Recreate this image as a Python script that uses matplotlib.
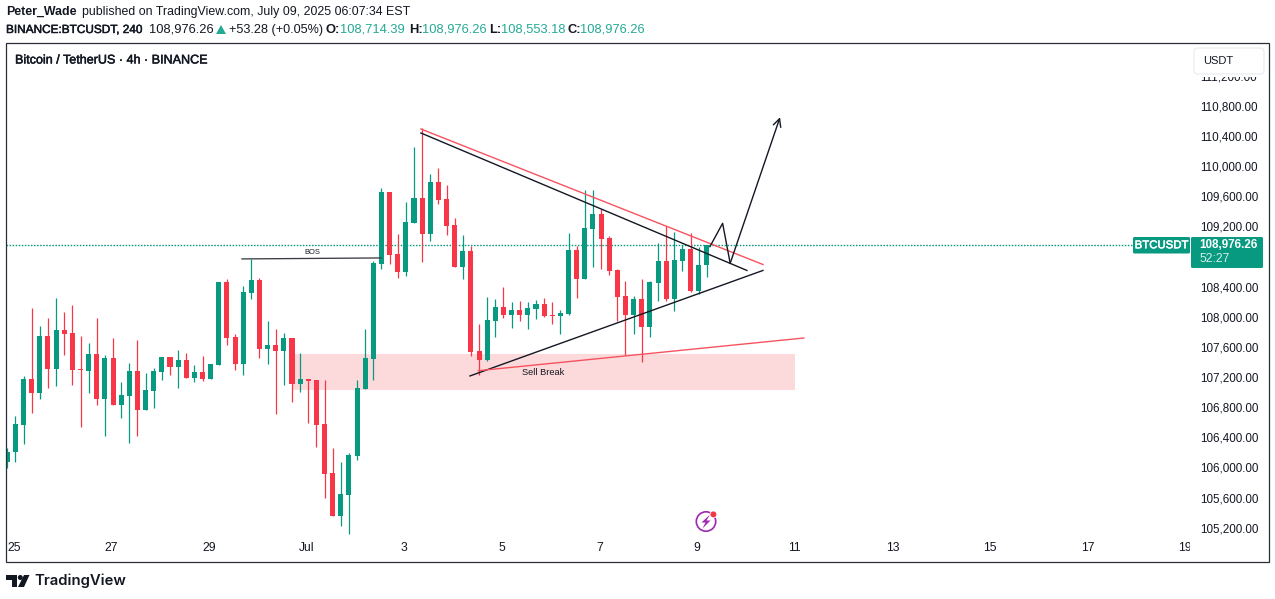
import matplotlib
matplotlib.use('Agg')
import matplotlib.pyplot as plt
import matplotlib.patches as mpatches
import matplotlib.patheffects as pe
from matplotlib.transforms import Bbox, IdentityTransform, TransformedBbox, ScaledTranslation

plt.rcParams['font.family'] = ['Liberation Sans', 'DejaVu Sans']

# 4h candles
opens = [106100, 106233, 106591, 107202, 107016, 107773, 107335, 107853, 107813, 107335,
         107308, 107534, 106936, 107481, 106857, 106976, 107308, 106790, 107042, 107295,
         107494, 107361, 107454, 107215, 107295, 107202, 107388, 108490, 107760, 107401,
         108344, 108517, 107600, 107653, 107574, 107746, 107135, 107202, 107188, 106604,
         105954, 105383, 105662, 106180, 107069, 107467, 108729, 109685, 108862, 108623,
         109273, 109606, 109127, 109818, 109592, 109247, 108690, 108902, 107574, 107454,
         107972, 108158, 108052, 108119, 108052, 108132, 108198, 108052, 108039, 108065,
         108915, 108530, 109193, 109393, 109074, 108650, 108304, 108052, 108264, 107893,
         108477, 108769, 108264, 108769, 108928, 108371, 108714.39]
highs = [106286, 106711, 107242, 108145, 107906, 108012, 108278, 108092, 108185, 107773,
         107680, 108012, 107521, 107746, 107162, 107414, 107720, 107282, 107348, 107494,
         107494, 107587, 107547, 107388, 107507, 107401, 108490, 108530, 107800, 108437,
         108796, 108543, 107972, 107866, 107813, 107746, 107547, 107202, 107188, 107188,
         106286, 106100, 106219, 107188, 107866, 108769, 109738, 109685, 109127, 109552,
         110282, 110534, 109923, 110003, 109778, 109340, 109114, 108968, 107932, 108291,
         108264, 108424, 108224, 108238, 108224, 108251, 108278, 108224, 108119, 109141,
         108968, 109712, 109712, 109459, 109101, 108663, 108503, 108304, 108530, 108503,
         109008, 109233, 109154, 108981, 109141, 108955, 108976.26]
lows = [106020, 106100, 106339, 106750, 106936, 107082, 107109, 107521, 107122, 106564,
        107016, 106857, 106445, 106857, 106684, 106352, 106445, 106790, 106817, 107188,
        107255, 107082, 107215, 107162, 107175, 107202, 107388, 107653, 107321, 107255,
        108264, 107481, 107401, 106737, 107122, 106896, 107029, 106618, 106299, 105622,
        105383, 105250, 105144, 106127, 107069, 107188, 108663, 108729, 108543, 108570,
        109273, 108756, 109034, 109526, 109114, 108690, 108530, 107507, 107255, 107441,
        107760, 108012, 107879, 107972, 107866, 107999, 108025, 107932, 107800, 108052,
        108278, 108530, 108690, 108663, 108583, 107972, 107521, 107800, 107428, 107760,
        108238, 108238, 108105, 108636, 108357, 108331, 108553.18]
closes = [106233, 106604, 107202, 107016, 107773, 107335, 107853, 107800, 107321, 107321,
          107534, 106936, 107481, 106857, 106989, 107308, 106790, 107056, 107308, 107494,
          107361, 107454, 107215, 107295, 107202, 107401, 108490, 107746, 107401, 108357,
          108517, 107600, 107653, 107574, 107746, 107135, 107202, 107175, 106591, 105941,
          105383, 105675, 106193, 107082, 107481, 108743, 109685, 108849, 108623, 109287,
          109606, 109127, 109818, 109579, 109233, 108690, 108902, 107560, 107454, 107985,
          108158, 108052, 108119, 108052, 108145, 108198, 108039, 108039, 108079, 108915,
          108530, 109207, 109393, 109061, 108636, 108291, 108052, 108264, 107893, 108490,
          108769, 108264, 108783, 108928, 108371, 108716, 108976.26]

last_price = 108976.26

# axis labels, 108,800 sits behind the price tag in the picture
price_ticks = [111200, 110800, 110400, 110000, 109600, 109200, 108400, 108000,
               107600, 107200, 106800, 106400, 106000, 105600, 105200]
date_ticks = [0.82, 12.82, 24.82, 36.82, 48.82, 60.82, 72.82, 84.82, 96.82, 108.82,
              120.82, 132.82, 144.82]
date_labels = ['25', '27', '29', 'Jul', '3', '5', '7', '9', '11', '13', '15', '17', '19']

# drawings on the chart (bar number, price)
bos_x = [28.85, 45.94]
bos_y = [108796, 108809]
red_top_x = [50.85, 92.9]
red_top_y = [110521, 108722]
black_top_x = [50.85, 90.93]
black_top_y = [110468, 108643]
black_low_x = [56.88, 92.9]
black_low_y = [107242, 108643]
red_low_x = [57.9, 97.93]
red_low_y = [107312, 107746]
path_x = [86.38, 87.94, 88.87, 95.0]
path_y = [108959, 109269, 108738, 110677]
zone_x = [35.12, 96.83]
zone_y = [107056, 107534]

GREEN = '#089981'
RED = '#F73648'
DARK = '#131722'
TEAL = '#22AB94'

# regular text made a little heavier, bold is too wide here
MEDIUM = [pe.withStroke(linewidth=0.35, foreground=DARK)]

W, H = 1275, 599
fig = plt.figure(figsize=(W / 100, H / 100), dpi=100, facecolor='white')

# chart pane, x 6-1190 and y 43-536 in pixels
ax = fig.add_axes([6 / W, 1 - 536 / H, 1184 / W, 493 / H])
ax.set_xlim(-0.16, 145.4)
ax.set_ylim(105117, 111663)
for s in ax.spines.values():
    s.set_visible(False)

ax.axhline(last_price, color=GREEN, lw=1, ls=(0, (1.1, 1.1)), zorder=1)

ax.add_patch(mpatches.Rectangle((zone_x[0], zone_y[0]), zone_x[1] - zone_x[0], zone_y[1] - zone_y[0],
                                facecolor='#FCD9DB', edgecolor='none', zorder=1))

# candles
for i in range(len(opens)):
    c = GREEN if closes[i] >= opens[i] else RED
    ax.plot([i, i], [lows[i], highs[i]], color=c, lw=0.9, solid_capstyle='butt', zorder=2)
    ax.bar(i, max(abs(closes[i] - opens[i]), 14), bottom=min(opens[i], closes[i]), width=0.62,
           color=c, linewidth=0, zorder=3)

# trend lines
ax.plot(bos_x, bos_y, color='#3a3d45', lw=0.95, zorder=4)
ax.plot(red_top_x, red_top_y, color='#F7525F', lw=1, zorder=4)
ax.plot(black_top_x, black_top_y, color=DARK, lw=1, zorder=4)
ax.plot(black_low_x, black_low_y, color=DARK, lw=1, zorder=4)
ax.plot(red_low_x, red_low_y, color='#F7525F', lw=1, zorder=4)
ax.plot(path_x[:3], path_y[:3], color=DARK, lw=1, zorder=4)
ax.annotate('', xy=(path_x[3], path_y[3]), xytext=(path_x[2], path_y[2]),
            arrowprops=dict(arrowstyle='->', color=DARK, lw=1, mutation_scale=14,
                            shrinkA=0, shrinkB=0), zorder=4)

ax.text(37.45, 108876, 'BOS', fontsize=5.4, color=DARK, ha='center', va='center')
ax.text(65.85, 107282, 'Sell Break', fontsize=6.7, color=DARK, ha='center', va='center')

# ticks
ax.yaxis.tick_right()
ax.set_yticks(price_ticks)
ax.set_yticklabels(['{:,.2f}'.format(p) for p in price_ticks], fontsize=8.4, color=DARK)
ax.set_xticks(date_ticks)
ax.set_xticklabels(date_labels, fontsize=8.7, color=DARK)
ax.tick_params(axis='both', length=0)
ax.tick_params(axis='y', pad=7)
ax.tick_params(axis='x', pad=4.3)

for lab in ax.get_yticklabels():
    lab.set_transform(lab.get_transform() + ScaledTranslation(0, 1.44 / 72, fig.dpi_scale_trans))

# the last date runs under the price scale
clip = TransformedBbox(Bbox([[0, 0], [1190, H]]), IdentityTransform())
for lab in ax.get_xticklabels():
    lab.set_clip_box(clip)
    lab.set_clip_on(True)

# everything around the chart, in pixels
top = fig.add_axes([0, 0, 1, 1], facecolor='none')
top.set_xlim(0, W)
top.set_ylim(H, 0)
top.axis('off')

top.add_patch(mpatches.Rectangle((6, 43), 1263, 519, facecolor='none', edgecolor='#2a2e39', lw=0.9))

# header
top.text(6, 12, 'Peter_Wade', fontsize=8.95, fontweight='bold', color=DARK, va='center')
top.text(82, 12, 'published on TradingView.com, July 09, 2025 06:07:34 EST', fontsize=8.95, color=DARK, va='center')
top.text(6, 30, 'BINANCE:BTCUSDT, 240', fontsize=8.5, color=DARK, va='center', path_effects=MEDIUM)
top.text(149.5, 30, '108,976.26', fontsize=9.3, color=DARK, va='center')
top.add_patch(mpatches.Polygon([(216, 34), (226, 34), (221, 25)], facecolor=TEAL, edgecolor='none'))
top.text(229, 30, '+53.28 (+0.05%)', fontsize=9.1, color=DARK, va='center')
for lx, letter, vx, val in [(326, 'O:', 340, '108,714.39'), (409, 'H:', 422, '108,976.26'),
                            (489, 'L:', 501, '108,553.18'), (568, 'C:', 580, '108,976.26')]:
    top.text(lx, 30, letter, fontsize=9.3, fontweight='bold', color=DARK, va='center')
    top.text(vx, 30, val, fontsize=9.3, color=TEAL, va='center')
top.text(15, 60.5, 'Bitcoin / TetherUS · 4h · BINANCE', fontsize=9.05, color=DARK, va='center', path_effects=MEDIUM)

# USDT button
top.add_patch(mpatches.Rectangle((1192, 46), 74, 31, facecolor='white', edgecolor='none'))
top.add_patch(mpatches.FancyBboxPatch((1196, 50), 66, 22, boxstyle='round,pad=2,rounding_size=4',
                                      facecolor='white', edgecolor='#eceef2', lw=1))
top.text(1203, 61.5, 'USDT', fontsize=8, color=DARK, va='center')

# price tags
top.add_patch(mpatches.FancyBboxPatch((1133, 237), 57, 16.5, boxstyle='round,pad=0,rounding_size=1.5',
                                      facecolor=GREEN, edgecolor='none'))
top.text(1161.5, 245.3, 'BTCUSDT', fontsize=8.2, color='white', ha='center', va='center',
         path_effects=[pe.withStroke(linewidth=0.35, foreground='white')])
top.add_patch(mpatches.FancyBboxPatch((1191, 237), 72, 31, boxstyle='round,pad=0,rounding_size=1.5',
                                      facecolor=GREEN, edgecolor='none'))
top.text(1199, 245, '108,976.26', fontsize=8.4, fontweight='bold', color='white', va='center')
top.text(1199, 259, '52:27', fontsize=8.7, color='#d5eee9', va='center')

# lightning icon
top.add_patch(mpatches.Circle((706, 521.5), 9.7, facecolor='white', edgecolor='#9C27B0', lw=1.2))
top.add_patch(mpatches.Polygon([(710, 514.5), (701.5, 522.5), (705.5, 522.5), (702.5, 528.5), (710.5, 520.5), (706.5, 520.5)],
                               facecolor='#9C27B0', edgecolor='none'))
top.add_patch(mpatches.Circle((713.4, 514.4), 3.8, facecolor='white', edgecolor='none'))
top.add_patch(mpatches.Circle((713.4, 514.4), 3, facecolor='#F23645', edgecolor='none'))

# TradingView logo
top.add_patch(mpatches.Polygon([(6, 575), (17, 575), (17, 587), (11.5, 587), (11.5, 580), (6, 580)],
                               facecolor=DARK, edgecolor='none'))
top.add_patch(mpatches.Circle((20.3, 577.5), 2.5, facecolor=DARK, edgecolor='none'))
top.add_patch(mpatches.Polygon([(24, 575), (29.5, 575), (24, 587), (18, 587)], facecolor=DARK, edgecolor='none'))
top.text(34, 581, 'TradingView', fontsize=10.7, family='Inter', fontweight='semibold', color=DARK, va='center')

fig.savefig('out.png', dpi=100)
